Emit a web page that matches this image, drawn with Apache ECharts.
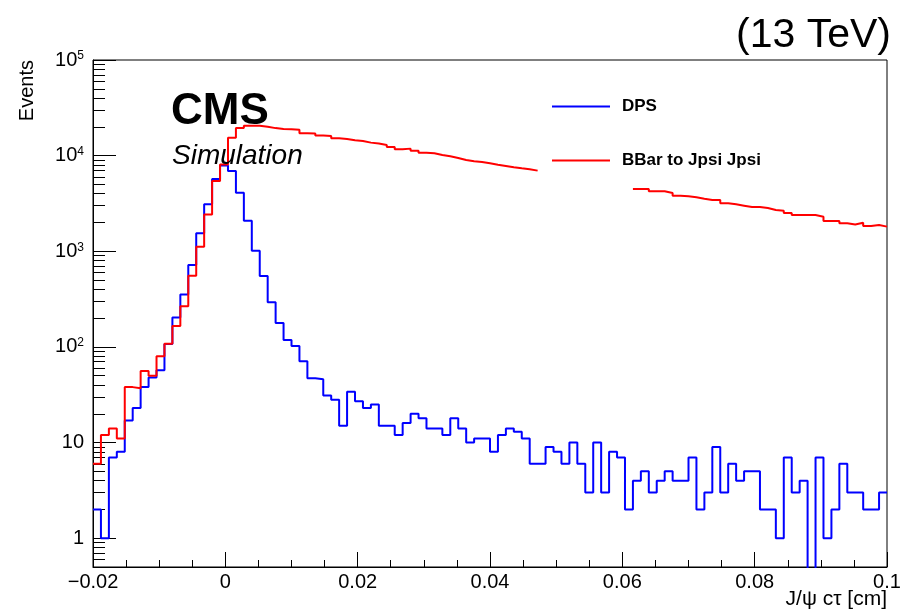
<!DOCTYPE html>
<html><head><meta charset="utf-8">
<script src="https://cdn.jsdelivr.net/npm/echarts@6/dist/echarts.min.js"></script>
<style>html,body{margin:0;padding:0;background:#fff}#c{width:903px;height:609px}</style>
</head><body><div id="c"></div>
<script>
// ---- data ----
const xMin = -0.02;
const xMax = 0.1;
const nBins = 100;
const seriesNames = ['DPS', 'BBar to Jpsi Jpsi'];
const dpsCounts = [
  2, 1, 7, 8, 17, 23, 38, 48, 57, 107,
  203, 354, 717, 1540, 3100, 5700, 7900, 6900, 4100, 2090,
  1010, 550, 294, 178, 118, 102, 71, 47, 46, 31,
  28, 15, 34, 27, 23, 25, 15, 15, 12, 16,
  20, 18, 14, 14, 12, 18, 14, 10, 11, 11,
  8, 12, 14, 13, 11, 6, 6, 9, 8, 6,
  10, 6, 3, 10, 3, 8, 7, 2, 4, 5,
  3, 4, 5, 4, 4, 7, 2, 3, 9, 3,
  6, 4, 5, 5, 2, 2, 1, 7, 3, 4,
  0, 7, 1, 2, 6, 3, 3, 2, 2, 3
];
// null = hidden behind the legend box in the reference
const bbarCounts = [
  6, 12, 14, 11, 38, 37, 56, 50, 80, 108,
  165, 267, 554, 1114, 2430, 5430, 8100, 15400, 19400, 20500,
  20500, 20100, 19400, 19000, 18900, 18600, 17140, 17000, 16200, 16070,
  15200, 14960, 14490, 14260, 13680, 13360, 12940, 12330, 11670, 11840,
  11280, 10740, 10590, 10160, 9860, 9460, 9020, 8730, 8590, 8320,
  8050, 7800, 7560, 7380, 7210, 6970, null, null, null, null,
  null, null, null, null, null, null, null, null, 4480, 4480,
  4240, 4240, 4070, 3810, 3760, 3670, 3550, 3440, 3440, 3170,
  3100, 3000, 2900, 2900, 2830, 2700, 2660, 2510, 2390, 2390,
  2390, 2300, 2070, 2070, 1960, 1910, 1990, 1840, 1880, 1810
];
const xTickStep = 0.02;

const FONT = 'Liberation Sans, Arial, Helvetica, sans-serif';

function histPoints(counts) {
  const w = (xMax - xMin) / nBins;
  const floor = 1e-3; // below axis minimum (empty bins drop to the frame)
  const pts = [];
  counts.forEach((c, i) => {
    const x0 = xMin + i * w, x1 = xMin + (i + 1) * w;
    if (c === null) { pts.push([x0, '-']); return; }
    const v = c > 0 ? c : floor;
    pts.push([x0, v], [x1, v]);
  });
  return pts;
}

function xLabel(v) {
  const r = parseFloat(v.toFixed(4));
  if (r === 0) return '0';
  return (r < 0 ? '\u2212' : '') + String(Math.abs(r));
}
function yLabel(v) {
  const e = Math.round(Math.log10(v));
  if (Math.abs(Math.pow(10, e) - v) > 1e-9 * v) return '';
  if (e === 0) return '{b|1}';
  if (e === 1) return '{b|10}';
  return '{b|10}{s|' + e + '}';
}

const chart = echarts.init(document.getElementById('c'), null, {renderer: 'canvas'});
chart.setOption({
  animation: false,
  backgroundColor: '#fff',
  title: [
    {text: '(13 TeV)', right: 12, top: 15, padding: 0,
     textStyle: {fontFamily: FONT, fontSize: 41, fontWeight: 'normal', color: '#000'}},
    {text: 'CMS', left: 171, top: 90, padding: 0,
     textStyle: {fontFamily: FONT, fontSize: 44, fontWeight: 'bold', color: '#000'}},
    {text: 'Simulation', left: 172, top: 142, padding: 0,
     textStyle: {fontFamily: FONT, fontSize: 28, fontStyle: 'italic', fontWeight: 'normal', color: '#000'}}
  ],
  legend: {
    data: seriesNames,
    orient: 'vertical',
    left: 552, top: 98, padding: 0,
    itemWidth: 58, itemHeight: 2, itemGap: 37,
    icon: 'rect',
    textStyle: {fontFamily: FONT, fontSize: 17, fontWeight: 'bold', color: '#000', padding: [0, 0, 0, 7]}
  },
  grid: {left: 93, right: 16, top: 60, bottom: 42, show: true, borderColor: '#000', borderWidth: 1,
         backgroundColor: 'transparent', outerBoundsMode: 'none', containLabel: false},
  xAxis: {
    type: 'value', min: xMin, max: xMax, interval: xTickStep,
    name: 'J/\u03c8 c\u03c4 [cm]', nameLocation: 'end', nameGap: 0, nameMoveOverlap: false,
    nameTextStyle: {fontFamily: FONT, fontSize: 21, color: '#000', align: 'right', verticalAlign: 'top', padding: [22, 0, 0, 0]},
    axisLine: {onZero: false, lineStyle: {color: '#000', width: 1}},
    axisTick: {inside: true, length: 15, lineStyle: {color: '#000', width: 1}},
    minorTick: {show: true, splitNumber: 4, length: 7, lineStyle: {color: '#000', width: 1}},
    splitLine: {show: false},
    axisLabel: {fontFamily: FONT, fontSize: 20, color: '#000', margin: 5, formatter: xLabel, showMinLabel: true, showMaxLabel: true}
  },
  yAxis: {
    type: 'log', logBase: 10, min: 0.5, max: 1e5,
    name: 'Events', nameLocation: 'end', nameRotate: 90, nameGap: 0, nameMoveOverlap: false,
    nameTextStyle: {fontFamily: FONT, fontSize: 20, color: '#000', align: 'right', verticalAlign: 'bottom', padding: [0, 0, 56, 0]},
    axisLine: {onZero: false, lineStyle: {color: '#000', width: 1}},
    axisTick: {inside: true, length: 23, lineStyle: {color: '#000', width: 1}},
    minorTick: {show: true, splitNumber: 9, length: 12, lineStyle: {color: '#000', width: 1}},
    splitLine: {show: false},
    axisLabel: {
      margin: 9, formatter: yLabel,
      rich: {
        b: {fontFamily: FONT, fontSize: 20, color: '#000'},
        s: {fontFamily: FONT, fontSize: 12, color: '#000', verticalAlign: 'top', padding: [0, 0, 8, 0]}
      }
    }
  },
  series: [
    {name: seriesNames[0], type: 'line', data: histPoints(dpsCounts), symbol: 'none', showSymbol: false,
     color: '#0000ff', lineStyle: {color: '#0000ff', width: 2}, clip: true, z: 2},
    {name: seriesNames[1], type: 'line', data: histPoints(bbarCounts), symbol: 'none', showSymbol: false,
     color: '#ff0000', lineStyle: {color: '#ff0000', width: 2}, clip: true, z: 3}
  ]
});
</script></body></html>
